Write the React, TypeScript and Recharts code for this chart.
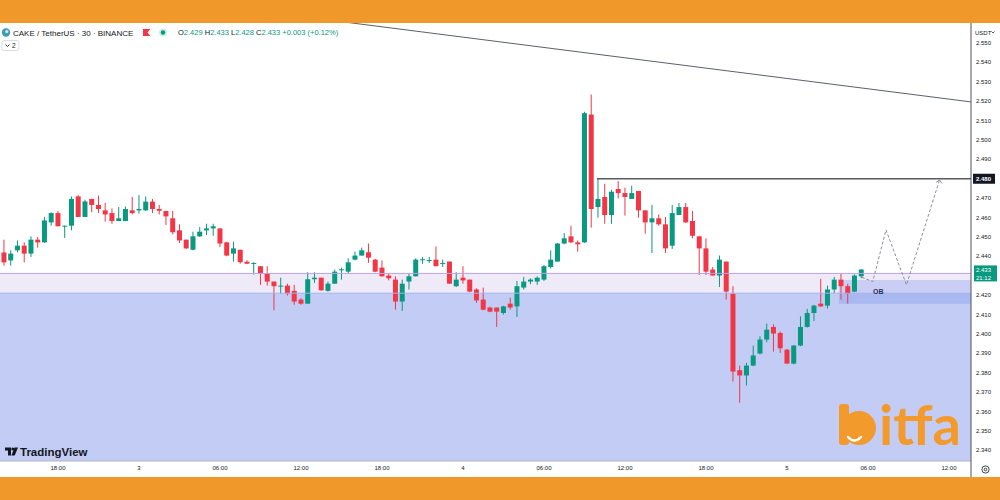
import React from 'react';
import { ComposedChart, Bar, Line, XAxis, YAxis, ReferenceArea, ReferenceLine } from 'recharts';

const GREEN = '#089981';
const RED = '#F23645';
const ORANGE = '#F0992A';
const BODY_W = 5;

// 30-minute candles, index 0 = 14:00 (day 2)
const opens = [
  2.4420, 2.4379, 2.4431, 2.4455, 2.4414, 2.4486, 2.4472, 2.4575, 2.4623, 2.4555,
  2.4558, 2.4709, 2.4603, 2.4696, 2.4665, 2.4637, 2.4623, 2.4582, 2.4582, 2.4637,
  2.4637, 2.4637, 2.4682, 2.4644, 2.4634, 2.4596, 2.4534, 2.4486, 2.4434, 2.4503,
  2.4534, 2.4544, 2.4544, 2.4472, 2.4414, 2.4434, 2.4372, 2.4362, 2.4349, 2.4311,
  2.4270, 2.4246, 2.4249, 2.4222, 2.4177, 2.4156, 2.4282, 2.4290, 2.4222, 2.4259,
  2.4330, 2.4321, 2.4383, 2.4404, 2.4421, 2.4383, 2.4342, 2.4301, 2.4280, 2.4167,
  2.4270, 2.4297, 2.4383, 2.4379, 2.4383, 2.4364, 2.4373, 2.4246, 2.4290, 2.4280,
  2.4229, 2.4177, 2.4136, 2.4136, 2.4108, 2.4156, 2.4142, 2.4239, 2.4270, 2.4270,
  2.4280, 2.4345, 2.4373, 2.4466, 2.4503, 2.4472, 2.4472, 2.5131, 2.4654, 2.4706,
  2.4613, 2.4747, 2.4726, 2.4696, 2.4737, 2.4637, 2.4575, 2.4596, 2.4565, 2.4455,
  2.4613, 2.4654, 2.4582, 2.4503, 2.4441, 2.4332, 2.4301, 2.4373, 2.4208, 2.3813,
  2.3786, 2.3837, 2.3899, 2.3971, 2.4036, 2.4005, 2.3919, 2.3847, 2.3940, 2.4036,
  2.4108, 2.4156, 2.4146, 2.4229, 2.4280, 2.4246, 2.4218, 2.4297,
];
const highs = [
  2.4486, 2.4431, 2.4482, 2.4472, 2.4503, 2.4500, 2.4603, 2.4627, 2.4634, 2.4558,
  2.4709, 2.4716, 2.4692, 2.4696, 2.4713, 2.4675, 2.4647, 2.4654, 2.4657, 2.4706,
  2.4716, 2.4709, 2.4696, 2.4665, 2.4634, 2.4634, 2.4565, 2.4486, 2.4527, 2.4551,
  2.4568, 2.4568, 2.4544, 2.4476, 2.4476, 2.4434, 2.4380, 2.4369, 2.4349, 2.4349,
  2.4270, 2.4290, 2.4259, 2.4253, 2.4184, 2.4318, 2.4318, 2.4290, 2.4270, 2.4332,
  2.4342, 2.4390, 2.4424, 2.4445, 2.4466, 2.4387, 2.4379, 2.4314, 2.4297, 2.4280,
  2.4314, 2.4390, 2.4397, 2.4397, 2.4451, 2.4383, 2.4373, 2.4318, 2.4349, 2.4280,
  2.4235, 2.4239, 2.4140, 2.4136, 2.4145, 2.4187, 2.4273, 2.4294, 2.4287, 2.4297,
  2.4356, 2.4431, 2.4469, 2.4520, 2.4558, 2.4482, 2.5145, 2.5234, 2.4802, 2.4774,
  2.4743, 2.4788, 2.4754, 2.4764, 2.4737, 2.4637, 2.4665, 2.4616, 2.4603, 2.4665,
  2.4675, 2.4675, 2.4634, 2.4506, 2.4493, 2.4345, 2.4404, 2.4373, 2.4246, 2.3837,
  2.3851, 2.3940, 2.3988, 2.4053, 2.4050, 2.4012, 2.3923, 2.3943, 2.4091, 2.4129,
  2.4150, 2.4284, 2.4249, 2.4294, 2.4311, 2.4259, 2.4307, 2.4335,
];
const lows = [
  2.4352, 2.4352, 2.4421, 2.4369, 2.4397, 2.4445, 2.4469, 2.4558, 2.4555, 2.4495,
  2.4534, 2.4603, 2.4603, 2.4627, 2.4623, 2.4579, 2.4568, 2.4582, 2.4582, 2.4616,
  2.4620, 2.4634, 2.4623, 2.4616, 2.4562, 2.4513, 2.4469, 2.4438, 2.4431, 2.4500,
  2.4510, 2.4506, 2.4448, 2.4400, 2.4373, 2.4362, 2.4360, 2.4306, 2.4253, 2.4249,
  2.4122, 2.4208, 2.4198, 2.4150, 2.4150, 2.4156, 2.4263, 2.4222, 2.4218, 2.4259,
  2.4280, 2.4314, 2.4379, 2.4404, 2.4366, 2.4318, 2.4297, 2.4276, 2.4125, 2.4119,
  2.4229, 2.4297, 2.4362, 2.4366, 2.4349, 2.4345, 2.4259, 2.4242, 2.4259, 2.4215,
  2.4160, 2.4122, 2.4112, 2.4036, 2.4100, 2.4125, 2.4088, 2.4229, 2.4256, 2.4253,
  2.4273, 2.4338, 2.4373, 2.4462, 2.4469, 2.4424, 2.4469, 2.4548, 2.4599, 2.4568,
  2.4568, 2.4699, 2.4610, 2.4696, 2.4599, 2.4517, 2.4417, 2.4558, 2.4417, 2.4438,
  2.4613, 2.4572, 2.4493, 2.4304, 2.4304, 2.4301, 2.4242, 2.4177, 2.3755, 2.3645,
  2.3734, 2.3834, 2.3895, 2.3957, 2.3909, 2.3902, 2.3847, 2.3844, 2.3937, 2.4033,
  2.4067, 2.4139, 2.4132, 2.4211, 2.4177, 2.4156, 2.4215, 2.4287,
];
const closes = [
  2.4369, 2.4414, 2.4455, 2.4414, 2.4486, 2.4472, 2.4585, 2.4623, 2.4555, 2.4558,
  2.4696, 2.4603, 2.4683, 2.4665, 2.4644, 2.4616, 2.4582, 2.4596, 2.4644, 2.4623,
  2.4644, 2.4682, 2.4644, 2.4635, 2.4606, 2.4524, 2.4482, 2.4441, 2.4503, 2.4527,
  2.4544, 2.4555, 2.4466, 2.4404, 2.4441, 2.4370, 2.4362, 2.4366, 2.4311, 2.4270,
  2.4246, 2.4249, 2.4208, 2.4167, 2.4156, 2.4282, 2.4290, 2.4225, 2.4259, 2.4321,
  2.4333, 2.4369, 2.4404, 2.4431, 2.4393, 2.4321, 2.4297, 2.4287, 2.4167, 2.4259,
  2.4297, 2.4383, 2.4385, 2.4381, 2.4349, 2.4366, 2.4259, 2.4280, 2.4276, 2.4218,
  2.4173, 2.4125, 2.4115, 2.4115, 2.4142, 2.4136, 2.4246, 2.4270, 2.4280, 2.4290,
  2.4349, 2.4383, 2.4466, 2.4493, 2.4472, 2.4462, 2.5138, 2.4644, 2.4696, 2.4613,
  2.4733, 2.4726, 2.4706, 2.4726, 2.4637, 2.4575, 2.4596, 2.4565, 2.4441, 2.4623,
  2.4654, 2.4575, 2.4506, 2.4441, 2.4321, 2.4301, 2.4383, 2.4218, 2.3806, 2.3786,
  2.3837, 2.3889, 2.3971, 2.4022, 2.4002, 2.3926, 2.3847, 2.3940, 2.4036, 2.4108,
  2.4146, 2.4142, 2.4229, 2.4280, 2.4246, 2.4208, 2.4301, 2.4332,
];

const timeTickIndex = [8, 20, 32, 44, 56, 68, 80, 92, 104, 116, 128, 140];
const timeTickLabels = ['18:00', '3', '06:00', '12:00', '18:00', '4', '06:00', '12:00', '18:00', '5', '06:00', '12:00'];

const priceTicks = [2.34, 2.35, 2.36, 2.37, 2.38, 2.39, 2.40, 2.41, 2.42, 2.433, 2.44, 2.45, 2.46, 2.47, 2.48, 2.49, 2.50, 2.51, 2.52, 2.53, 2.54, 2.55];
const lastPrice = 2.433;
const lastPriceTimer = '21:12';
const resistancePrice = 2.48;

// zones
const zoneTop = 2.4312;
const zoneMid = 2.4210;
const obTop = 2.4278;
const obBottom = 2.4155;
const obStartIdx = 123.7;
const resistanceStartIdx = 87.85;
const trendStart = { i: 45, p: 2.5632 };
const trendEnd = { i: 143.26, p: 2.5196 };

// projected dashed path
const projIdx = [127.07, 128.7, 130.67, 133.7, 138.6];
const projPrice = [2.4292, 2.4270, 2.4536, 2.4253, 2.4794];

const X_MIN = -0.59;
const X_MAX = 143.26;
const Y_MIN = 2.3345;
const Y_MAX = 2.5608;

const candles = opens.map((o, k) => ({ i: k, o, h: highs[k], l: lows[k], c: closes[k] }));
const projection = projIdx.map((i, k) => ({ i, p: projPrice[k] }));

const renderCandle = (props: any) => {
  const { x, y, width, height, payload } = props;
  if (!payload || payload.o == null) return <g />;
  const { o, h, l, c } = payload;
  const k = h - l > 0 ? height / (h - l) : 0;
  const yO = y + (h - o) * k;
  const yC = y + (h - c) * k;
  const color = c >= o ? GREEN : RED;
  const cx = x + width / 2;
  const top = Math.min(yO, yC);
  const bh = Math.max(1, Math.abs(yC - yO));
  return (
    <g>
      <line x1={cx} x2={cx} y1={y} y2={y + height} stroke={color} strokeWidth={1} />
      <rect x={cx - BODY_W / 2} y={top} width={BODY_W} height={bh} fill={color} />
    </g>
  );
};

const renderPriceTick = (props: any) => {
  const { x, y, payload } = props;
  const v = payload.value;
  if (Math.abs(v - resistancePrice) < 1e-6) {
    return (
      <g>
        <rect x={x - 3} y={y - 5} width={22} height={10} fill="#131722" />
        <text x={x} y={y} dy="0.35em" fontSize={6} fill="#fff" fontWeight={700}>{v.toFixed(3)}</text>
      </g>
    );
  }
  if (Math.abs(v - lastPrice) < 1e-6) {
    return (
      <g>
        <rect x={x - 2} y={y - 4.5} width={23} height={16} fill={GREEN} />
        <text x={x} y={y} dy="0.35em" fontSize={6} fill="#fff">{v.toFixed(3)}</text>
        <text x={x} y={y + 7.5} dy="0.35em" fontSize={6} fill="#fff">{lastPriceTimer}</text>
      </g>
    );
  }
  return (
    <text x={x} y={y} dy="0.35em" fontSize={6} fill="#131722">{v.toFixed(3)}</text>
  );
};

const renderArrow = (props: any) => {
  const { cx, cy, index } = props;
  if (index !== projIdx.length - 1) return <g key={`d${index}`} />;
  return (
    <polyline key={`d${index}`} points={`${cx - 3.5},${cy + 2.5} ${cx},${cy} ${cx + 2.5},${cy + 3.5}`} fill="none" stroke="#8C8F99" strokeWidth={1} />
  );
};

export default function App() {
  return (
    <div style={{ position: 'absolute', left: 0, top: 0, width: 1000, height: 500, background: '#fff', overflow: 'hidden', fontFamily: '"Liberation Sans", Arial, sans-serif' }}>
      <ComposedChart width={1000} height={500} data={candles} margin={{ top: 22, right: 0, bottom: 23, left: 0 }}>
        <XAxis
          dataKey="i"
          type="number"
          domain={[X_MIN, X_MAX]}
          allowDataOverflow
          ticks={timeTickIndex}
          interval={0}
          tickFormatter={(v: number) => timeTickLabels[timeTickIndex.indexOf(v)] ?? ''}
          tickLine={false}
          tickSize={0}
          tickMargin={5}
          height={16}
          axisLine={{ stroke: '#B2B5BE' }}
          tick={{ fontSize: 6, fill: '#131722' }}
        />
        <YAxis
          orientation="right"
          type="number"
          domain={[Y_MIN, Y_MAX]}
          allowDataOverflow
          ticks={priceTicks}
          interval={0}
          width={29}
          tickLine={false}
          tickSize={0}
          tickMargin={5}
          axisLine={{ stroke: '#50535E' }}
          tick={renderPriceTick}
        />
        <ReferenceArea y1={zoneMid} y2={zoneTop} fill="#EFEAF8" fillOpacity={1} stroke="none" />
        <ReferenceArea y1={Y_MIN} y2={zoneMid} fill="#C3CCF4" fillOpacity={1} stroke="none" />
        <ReferenceLine y={zoneTop} stroke="#B9A3E3" strokeWidth={1} />
        <ReferenceLine y={zoneMid} stroke="#A3B2EE" strokeWidth={1} />
        <ReferenceArea
          x1={obStartIdx}
          x2={X_MAX}
          y1={obBottom}
          y2={obTop}
          fill="#5B7BE6"
          fillOpacity={0.25}
          stroke="none"
          label={{ value: 'OB', position: 'insideLeft', offset: 34, fontSize: 7, fontWeight: 700, fill: '#2B3258' }}
        />
        <ReferenceLine
          segment={[{ x: trendStart.i, y: trendStart.p }, { x: trendEnd.i, y: trendEnd.p }]}
          stroke="#5D606B"
          strokeWidth={1}
          ifOverflow="hidden"
        />
        <ReferenceLine
          segment={[{ x: resistanceStartIdx, y: resistancePrice }, { x: X_MAX, y: resistancePrice }]}
          stroke="#5A5A5A"
          strokeWidth={1.5}
          ifOverflow="hidden"
        />
        <Bar dataKey={(d: any) => [d.l, d.h]} barSize={5} shape={renderCandle} isAnimationActive={false} />
        <Line
          data={projection}
          dataKey="p"
          type="linear"
          stroke="#8C8F99"
          strokeWidth={1}
          strokeDasharray="3 2"
          dot={renderArrow}
          activeDot={false}
          isAnimationActive={false}
        />
      </ComposedChart>

      <svg width={1000} height={500} style={{ position: 'absolute', left: 0, top: 0, pointerEvents: 'none' }}>
        <rect x={0} y={0} width={1000} height={23} fill={ORANGE} />
        <rect x={0} y={477} width={1000} height={23} fill={ORANGE} />
        <line x1={971} x2={971} y1={461} y2={477} stroke="#50535E" />

        {/* header */}
        <circle cx={6} cy={32.5} r={4.2} fill="#3E9DB3" />
        <circle cx={6.8} cy={31.5} r={1.6} fill="#D4EEF3" />
        <text x={13} y={35.5} fontSize={8} fill="#131722">CAKE / TetherUS · 30 · BINANCE</text>
        <rect x={143} y={29} width={7} height={7} fill={RED} />
        <polygon points="147.5,32.5 150,29.5 150,35.5" fill="#fff" />
        <circle cx={163} cy={32.5} r={4} fill="#CBEDE6" />
        <circle cx={163} cy={32.5} r={2.2} fill={GREEN} />
        <text x={178} y={35.3} fontSize={7.5} fill={GREEN}>
          <tspan fill="#131722">O</tspan>2.429 <tspan fill="#131722">H</tspan>2.433 <tspan fill="#131722">L</tspan>2.428 <tspan fill="#131722">C</tspan>2.433 +0.003 (+0.12%)
        </text>
        <rect x={2} y={40.5} width={17} height={10} rx={2} fill="#fff" stroke="#D1D4DC" strokeWidth={0.8} />
        <polyline points="5.5,44.5 7.5,46.5 9.5,44.5" fill="none" stroke="#131722" strokeWidth={0.9} />
        <text x={12} y={48.3} fontSize={6.5} fill="#131722">2</text>

        {/* price axis currency */}
        <text x={975} y={34.5} fontSize={6} fill="#131722">USDT</text>
        <polyline points="991.5,31.5 993,33 994.5,31.5" fill="none" stroke="#131722" strokeWidth={0.7} />

        {/* settings icon */}
        <circle cx={985.5} cy={469.5} r={3.6} fill="none" stroke="#131722" strokeWidth={0.8} />
        <circle cx={985.5} cy={469.5} r={1.3} fill="none" stroke="#131722" strokeWidth={0.8} />

        {/* TradingView logo */}
        <path d="M5 447.5 h6 v8 h-3 v-5 h-3 z" fill="#131722" />
        <circle cx={12.8} cy={449} r={1.5} fill="#131722" />
        <path d="M14.5 447.5 h3.5 l-3.3 8 h-3.3 z" fill="#131722" />
        <text x={20} y={455.5} fontSize={11.5} fontWeight={700} fill="#131722">TradingView</text>

        {/* bitfa logo */}
        <rect x={839} y={404} width={10} height={41} rx={3} fill="#F39A2C" />
        <circle cx={859} cy={428} r={17} fill="#F39A2C" />
        <path d="M848 437 Q854.5 444 861 437" fill="none" stroke="#fff" strokeWidth={2.5} strokeLinecap="round" />
        <text x={879} y={445} fontSize={56} fontWeight={700} fill="#F39A2C" fontFamily="Lato, 'Open Sans', sans-serif">itfa</text>
      </svg>
    </div>
  );
}
